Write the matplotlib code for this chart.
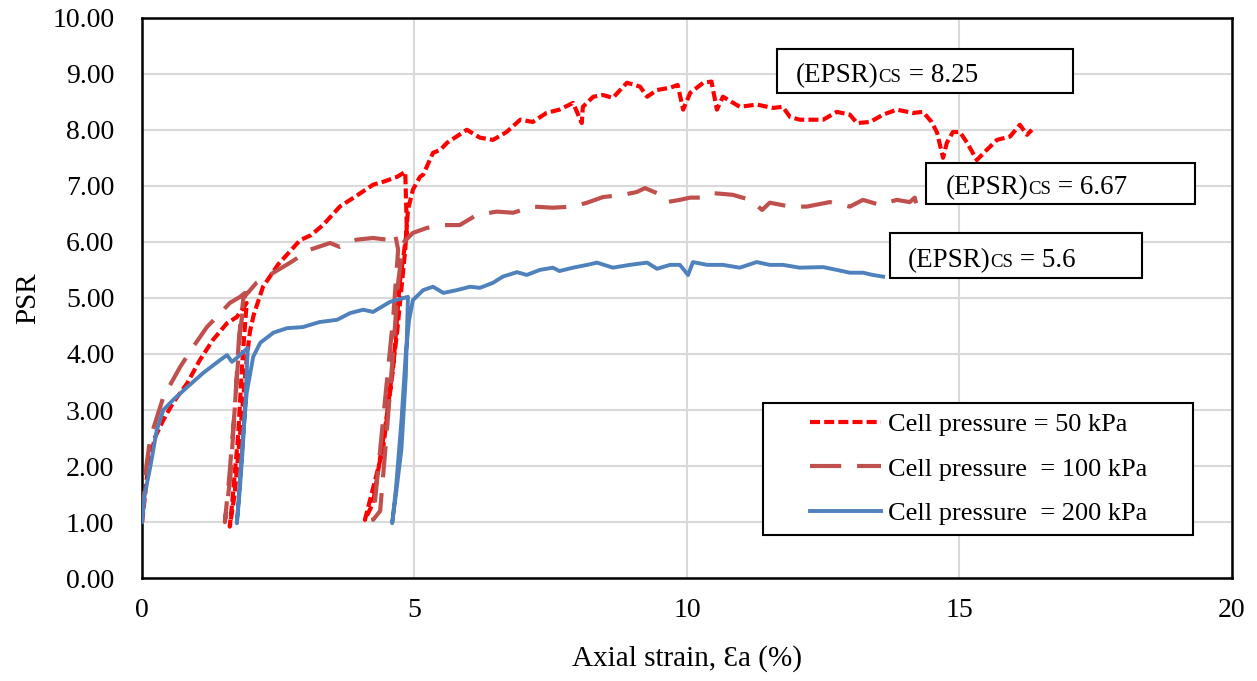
import matplotlib
matplotlib.use("Agg")
import matplotlib.pyplot as plt
from matplotlib.patches import Rectangle

plt.rcParams['font.family'] = ['Liberation Serif', 'DejaVu Serif']

# ---- data ----
# Cell pressure = 50 kPa
x50 = [0.0, 0.02, 0.11, 0.24, 0.39, 0.57, 0.83, 1.06, 1.30, 1.56, 1.74, 1.92,
       1.85, 1.76, 1.65, 1.61,
       1.70, 1.82, 1.92, 1.98, 2.05, 2.22, 2.50, 2.90, 3.10, 3.32, 3.63, 3.90, 4.24, 4.45, 4.68, 4.83,
       4.86, 4.73, 4.61, 4.42, 4.09,
       4.24, 4.49, 4.68, 4.83, 4.88, 4.97, 5.10, 5.16, 5.34, 5.47, 5.60, 5.96, 6.20, 6.44, 6.69, 6.94, 7.17,
       7.42, 7.66, 7.91, 8.07, 8.09, 8.28, 8.46, 8.64, 8.90, 9.14, 9.27, 9.45, 9.69, 9.83, 9.93,
       10.06, 10.30, 10.45, 10.55, 10.66, 10.97, 11.28, 11.58, 11.76, 11.89, 12.07, 12.50, 12.75,
       12.99, 13.12, 13.36, 13.60, 13.85, 14.15, 14.33, 14.49, 14.59, 14.70, 14.77, 14.88, 15.01,
       15.14, 15.32, 15.50, 15.69, 15.93, 16.11, 16.24, 16.33]
y50 = [1.0, 1.16, 1.98, 2.52, 2.82, 3.13, 3.48, 3.89, 4.25, 4.55, 4.66, 4.91,
       4.00, 2.50, 1.30, 0.92,
       1.50, 2.80, 3.90, 4.40, 4.70, 5.20, 5.60, 6.03, 6.12, 6.30, 6.63, 6.80, 7.02, 7.08, 7.16, 7.25,
       6.20, 5.27, 3.77, 2.29, 1.04,
       1.34, 2.88, 4.38, 5.86, 6.57, 6.93, 7.16, 7.20, 7.59, 7.64, 7.77, 8.00, 7.86, 7.82, 7.96, 8.18, 8.14,
       8.30, 8.36, 8.48, 8.12, 8.41, 8.59, 8.62, 8.57, 8.84, 8.77, 8.59, 8.71, 8.75, 8.80, 8.36,
       8.66, 8.84, 8.86, 8.36, 8.59, 8.41, 8.45, 8.39, 8.41, 8.23, 8.18, 8.18, 8.32,
       8.27, 8.12, 8.14, 8.27, 8.36, 8.30, 8.32, 8.14, 7.95, 7.50, 7.77, 7.96, 7.96,
       7.77, 7.46, 7.64, 7.82, 7.88, 8.09, 7.91, 8.00]

# Cell pressure = 100 kPa
x100 = [0.0, 0.08, 0.15, 0.24, 0.39, 0.70, 0.94, 1.19, 1.37, 1.61, 1.80, 1.89,
        1.80, 1.70, 1.60, 1.52,
        1.62, 1.70, 1.78, 1.86, 2.10, 2.41, 2.72, 3.08, 3.45, 3.63, 3.94, 4.24, 4.49, 4.64,
        4.70, 4.61, 4.49, 4.37, 4.24,
        4.37, 4.49, 4.61, 4.70, 4.79, 4.97, 5.23, 5.53, 5.83, 6.14, 6.51, 6.81, 7.17, 7.54, 7.91,
        8.17, 8.46, 8.83, 9.08, 9.23, 9.45, 9.63, 9.87, 10.06, 10.30, 10.48, 10.84, 11.16, 11.38,
        11.52, 11.89, 12.20, 12.62, 12.99, 13.23, 13.54, 13.85, 14.09, 14.18, 14.22]
y100 = [1.0, 2.00, 2.50, 2.77, 3.23, 3.77, 4.13, 4.48, 4.66, 4.91, 5.02, 5.09,
        4.40, 3.00, 1.80, 1.00,
        1.80, 3.00, 4.30, 5.00, 5.27, 5.45, 5.63, 5.86, 5.98, 5.91, 6.04, 6.07, 6.04, 6.16,
        5.86, 4.66, 3.48, 2.29, 1.04,
        1.20, 2.59, 4.07, 5.27, 5.98, 6.16, 6.25, 6.30, 6.30, 6.48, 6.54, 6.52, 6.63, 6.61, 6.63,
        6.70, 6.80, 6.84, 6.89, 6.96, 6.87, 6.71, 6.75, 6.79, 6.79, 6.87, 6.84, 6.75, 6.57,
        6.70, 6.63, 6.63, 6.71, 6.63, 6.75, 6.66, 6.75, 6.71, 6.79, 6.63]

# Cell pressure = 200 kPa
x200 = [0.0, 0.05, 0.15, 0.27, 0.39, 0.57, 0.83, 1.12, 1.43, 1.56, 1.65, 1.74, 1.94,
        1.90, 1.84, 1.78, 1.74,
        1.80, 1.86, 1.92, 2.04, 2.17, 2.41, 2.66, 2.95, 3.26, 3.58, 3.82, 4.06, 4.24, 4.55, 4.88,
        4.84, 4.76, 4.66, 4.59,
        4.66, 4.76, 4.84, 4.90, 4.97, 5.16, 5.34, 5.53, 5.78, 6.02, 6.20, 6.44, 6.62, 6.88, 7.06,
        7.30, 7.54, 7.66, 7.91, 8.17, 8.35, 8.64, 8.95, 9.27, 9.45, 9.69, 9.87, 10.02, 10.11,
        10.37, 10.66, 10.97, 11.28, 11.52, 11.76, 12.07, 12.50, 12.75, 12.99, 13.23, 13.41, 13.60]
y200 = [1.0, 1.50, 1.98, 2.64, 3.00, 3.18, 3.41, 3.66, 3.89, 3.98, 3.86, 3.93, 4.11,
        3.20, 2.20, 1.40, 0.98,
        1.80, 2.60, 3.30, 3.95, 4.20, 4.38, 4.46, 4.48, 4.57, 4.61, 4.73, 4.79, 4.75, 4.93, 5.02,
        3.60, 2.30, 1.50, 0.98,
        1.60, 2.80, 4.00, 4.60, 4.96, 5.14, 5.20, 5.09, 5.14, 5.20, 5.18, 5.27, 5.38, 5.46, 5.41,
        5.50, 5.54, 5.48, 5.54, 5.59, 5.63, 5.54, 5.59, 5.63, 5.52, 5.59, 5.59, 5.41, 5.64,
        5.59, 5.59, 5.54, 5.64, 5.59, 5.59, 5.54, 5.55, 5.50, 5.45, 5.45, 5.41, 5.38]

labels = ["Cell pressure = 50 kPa", "Cell pressure  = 100 kPa", "Cell pressure  = 200 kPa"]
colors = ["#FF0000", "#C0504D", "#4F81BD"]

ann_main = ["(EPSR)", "(EPSR)", "(EPSR)"]
ann_sub = ["CS", "CS", "CS"]
ann_val = [" = 8.25", " = 6.67", " = 5.6"]

xticks = [0, 5, 10, 15, 20]
yticks = [0, 1, 2, 3, 4, 5, 6, 7, 8, 9, 10]

# ---- figure ----
fig = plt.figure(figsize=(12.57, 6.81), dpi=100)
ax = fig.add_axes([0.113, 0.151, 0.867, 0.823])

ax.plot(x50, y50, color=colors[0], lw=3.0, dashes=(2.4, 1.0), label=labels[0], zorder=3)
ax.plot(x100, y100, color=colors[1], lw=3.0, dashes=(7.5, 3.8), label=labels[1], zorder=3)
ax.plot(x200, y200, color=colors[2], lw=2.8, label=labels[2], zorder=3)

ax.set_xlim(0, 20)
ax.set_ylim(0, 10)
ax.set_xticks(xticks)
ax.set_yticks(yticks)
ax.set_yticklabels([f"{v:.2f}" for v in yticks])
ax.tick_params(axis='both', length=0, labelsize=20)
ax.tick_params(axis='y', pad=20)
ax.tick_params(axis='x', pad=14)
ax.grid(True, color="#D9D9D9", lw=1.5, zorder=0)
ax.set_axisbelow(True)
for s in ax.spines.values():
    s.set_color("black")
    s.set_linewidth(1.8)

ax.set_xlabel("Axial strain, \u0190a (%)", fontsize=21, labelpad=16)
ax.set_ylabel("PSR", fontsize=21, labelpad=8)

# annotation boxes (data coords)
boxes = [(11.65, 8.66, 5.43, 0.79), (14.39, 6.68, 4.93, 0.73), (13.72, 5.36, 4.63, 0.80)]
text_pos = [(12.0, 8.85), (14.75, 6.86), (14.05, 5.55)]
for (bx, by, bw, bh) in boxes:
    ax.add_patch(Rectangle((bx, by), bw, bh, facecolor="white", edgecolor="black", lw=1.5, zorder=4))

fig.canvas.draw()
r = fig.canvas.get_renderer()
for (tx, ty), m, sb, v in zip(text_pos, ann_main, ann_sub, ann_val):
    t1 = ax.text(tx, ty, m, fontsize=19.5, va='baseline', ha='left', zorder=5)
    bb = t1.get_window_extent(r)
    x2 = ax.transData.inverted().transform((bb.x1, 0))[0]
    t2 = ax.text(x2, ty, sb, fontsize=13.5, va='baseline', ha='left', zorder=5)
    bb2 = t2.get_window_extent(r)
    x3 = ax.transData.inverted().transform((bb2.x1, 0))[0]
    ax.text(x3, ty, v, fontsize=19.5, va='baseline', ha='left', zorder=5)

# legend frame (axes fraction) and legend contents
ax.add_patch(Rectangle((0.570, 0.077), 0.394, 0.236, transform=ax.transAxes,
                       facecolor="white", edgecolor="black", lw=1.5, zorder=5))
leg = ax.legend(loc='center left', bbox_to_anchor=(0.613, 0.195),
                fontsize=19, frameon=False,
                handlelength=2.7, handletextpad=0.25, labelspacing=0.8, borderpad=0.0,
                borderaxespad=0)
leg.set_zorder(6)

fig.savefig("out.png", dpi=100)
